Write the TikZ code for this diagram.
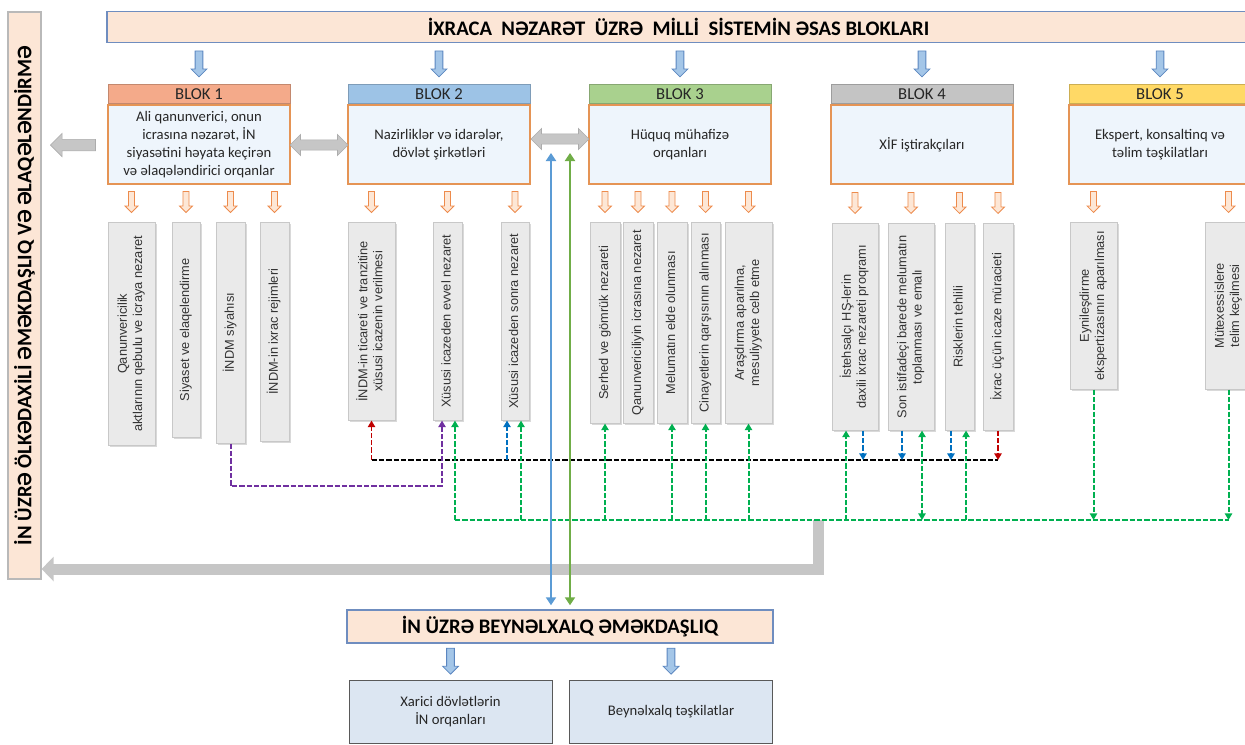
\documentclass[tikz,border=0pt]{standalone}
\usepackage{fontspec}
\setmainfont{Carlito}
\newfontfamily\subfnt{Liberation Sans}
\usetikzlibrary{arrows.meta,shapes.arrows,shadows,positioning}
\definecolor{peach}{HTML}{FCE6D6}
\definecolor{barline}{HTML}{6F8DBF}
\definecolor{bodyfill}{HTML}{EEF5FC}
\definecolor{bodyline}{HTML}{E59455}
\definecolor{hone}{HTML}{F4AA8A}
\definecolor{htwo}{HTML}{9DC3E6}
\definecolor{hthree}{HTML}{A9D18E}
\definecolor{hfour}{HTML}{C4C4C4}
\definecolor{hfive}{HTML}{FFD966}
\definecolor{subfill}{HTML}{EAEAEA}
\definecolor{subline}{HTML}{C8C8C8}
\definecolor{arrblue}{HTML}{A4C6E8}
\definecolor{arrblueline}{HTML}{5B86C0}
\definecolor{arrorange}{HTML}{FDE7D6}
\definecolor{arrorangeline}{HTML}{ED8B4C}
\definecolor{arrgray}{HTML}{C6C6C6}
\definecolor{cred}{HTML}{C00000}
\definecolor{cpurple}{HTML}{7030A0}
\definecolor{cblue}{HTML}{0070C0}
\definecolor{cgreen}{HTML}{00B050}
\definecolor{lblue}{HTML}{5B9BD5}
\definecolor{lgreen}{HTML}{70AD47}
\definecolor{boxfill}{HTML}{DCE6F2}
\definecolor{boxline}{HTML}{595959}
\newcommand\uptext[1]{\rotatebox{90}{\begin{tabular}{@{}c@{}}#1\end{tabular}}}
\begin{document}
\begin{tikzpicture}[x=0.75pt,y=-0.75pt,>={Triangle[length=5pt,width=5.5pt]},
  barnode/.style={draw=barline,line width=1.1pt,fill=peach,inner sep=0pt,font=\bfseries\fontsize{15.5}{17}\selectfont},
  blockbody/.style={draw=bodyline,line width=0.9pt,fill=bodyfill,minimum width=136.5pt,minimum height=59.25pt,inner sep=0pt,align=center,font=\fontsize{11}{13.5}\selectfont,text=black!85,drop shadow={opacity=0.2,shadow xshift=1pt,shadow yshift=-1pt}},
  blockhead/.style={draw=#1!80!black,fill=#1,line width=0.7pt,minimum width=136.5pt,minimum height=14.25pt,inner sep=0pt,font=\fontsize{12.5}{13}\selectfont,text=black!85},
  subbox/.style={draw=subline,fill=subfill,inner sep=0pt,anchor=north,font=\subfnt\fontsize{9.6}{11.3}\selectfont,text=black!80,drop shadow={opacity=0.3,shadow xshift=1.5pt,shadow yshift=-1.5pt}},
  orgbox/.style={draw=boxline,fill=boxfill,minimum width=152pt,minimum height=47.25pt,align=center,font=\fontsize{11}{13.5}\selectfont,text=black!85},
  downblue/.style={single arrow,shape border rotate=270,draw=arrblueline,fill=arrblue,line width=0.6pt,minimum height=19.5pt,inner sep=2.6pt,single arrow head extend=3pt,anchor=tip},
  downorange/.style={single arrow,shape border rotate=270,draw=arrorangeline,fill=arrorange,line width=0.6pt,minimum height=15.75pt,inner sep=2pt,single arrow head extend=2.5pt,anchor=tip},
  graydbl/.style={double arrow,draw=gray!65,fill=arrgray,line width=0.5pt,minimum height=43.5pt,inner sep=3.6pt,double arrow head extend=4pt},
  grayleft/.style={single arrow,shape border rotate=180,draw=gray!65,fill=arrgray,line width=0.5pt,minimum height=33.75pt,inner sep=4pt,single arrow head extend=4.5pt,anchor=tip},
  kd/.style={black,line width=1.2pt,dash pattern=on 4pt off 1.5pt},
  rd/.style={cred,line width=1.3pt,dash pattern=on 4pt off 1.5pt},
  pd/.style={cpurple,line width=1.5pt,dash pattern=on 4pt off 1.5pt},
  bd/.style={cblue,line width=1.3pt,dash pattern=on 4pt off 1.5pt},
  gd/.style={cgreen,line width=1.5pt,dash pattern=on 4pt off 1.5pt},
  longline/.style={line width=2.2pt,<->,>={Triangle[length=6pt,width=7.5pt]}}]
\useasboundingbox (0,0) rectangle (1245,744);
\coordinate (kbus) at (0,460);
\coordinate (pbus) at (0,486);
\coordinate (gbus) at (0,520);

% bars
\node[barnode,minimum width=857pt,minimum height=23.25pt] (title) at (678.5,27) {İXRACA\ \ NƏZARƏT\ \ ÜZRƏ\ \ MİLLİ\ \ SİSTEMİN ƏSAS BLOKLARI};
\node[barnode,draw=gray!55,line width=0.9pt,minimum width=24.75pt,minimum height=425.25pt] (side) at (24.5,295.5) {\rotatebox{90}{İN ÜZRƏ ÖLKƏDAXİLİ ƏMƏKDAŞLIQ VƏ ƏLAQƏLƏNDİRMƏ}};
\node[barnode,minimum width=319.5pt,minimum height=24.75pt] (intl) at (560,626.5) {İN ÜZRƏ BEYNƏLXALQ ƏMƏKDAŞLIQ};

% blocks
\node[blockbody] (b1) at (199,144.5) {Ali qanunverici, onun\\icrasına nəzarət, İN\\siyasətini həyata keçirən\\və əlaqələndirici orqanlar};
\node[blockbody] (b2) at (439,144.5) {Nazirliklər və idarələr,\\dövlət şirkətləri};
\node[blockbody] (b3) at (680,144.5) {Hüquq mühafizə\\orqanları};
\node[blockbody] (b4) at (922,144.5) {XİF iştirakçıları};
\node[blockbody] (b5) at (1160,144.5) {Ekspert, konsaltinq və\\təlim təşkilatları};
\node[blockhead=hone,above=0pt of b1] (h1) {BLOK 1};
\node[blockhead=htwo,above=0pt of b2] (h2) {BLOK 2};
\node[blockhead=hthree,above=0pt of b3] (h3) {BLOK 3};
\node[blockhead=hfour,above=0pt of b4] (h4) {BLOK 4};
\node[blockhead=hfive,above=0pt of b5] (h5) {BLOK 5};
\foreach \n in {h1,h2,h3,h4,h5} \node[downblue] at ([yshift=5.25pt]\n.north) {};
\node[graydbl] (d12) at (319,145) {};
\node[graydbl] (d23) at (560,139) {};
\node[grayleft] (dl) at (50,145) {};

% sub boxes
\node[subbox,minimum width=35.25pt,minimum height=167.25pt] (s1a) at (131.5,222) {\uptext{Qanunvericilik\\aktlarının qebulu ve icraya nezaret}};
\node[subbox,minimum width=21pt,minimum height=161.25pt] (s1b) at (186,222) {\uptext{Siyaset ve elaqelendirme}};
\node[subbox,minimum width=21.75pt,minimum height=165.75pt] (s1c) at (230.5,222) {\uptext{İNDM siyahısı}};
\node[subbox,minimum width=21.75pt,minimum height=164.25pt] (s1d) at (274.5,222) {\uptext{İNDM-in ixrac rejimleri}};
\node[subbox,minimum width=35.25pt,minimum height=148.5pt] (s2a) at (371.5,222) {\uptext{İNDM-in ticareti ve tranzitine\\xüsusi icazenin verilmesi}};
\node[subbox,minimum width=21.75pt,minimum height=148.5pt] (s2b) at (447.5,222) {\uptext{Xüsusi icazeden evvel nezaret}};
\node[subbox,minimum width=21pt,minimum height=148.5pt] (s2c) at (515,222) {\uptext{Xüsusi icazeden sonra nezaret}};
\node[subbox,minimum width=22.5pt,minimum height=150.75pt] (s3a) at (605,222) {\uptext{Serhed ve gömrük nezareti}};
\node[subbox,minimum width=22.5pt,minimum height=150.75pt] (s3b) at (638,222) {\uptext{Qanunvericiliyin icrasına nezaret}};
\node[subbox,minimum width=22.5pt,minimum height=150.75pt] (s3c) at (672,222) {\uptext{Melumatın elde olunması}};
\node[subbox,minimum width=21.75pt,minimum height=150.75pt] (s3d) at (705.5,222) {\uptext{Cinayetlerin qarşısının alınması}};
\node[subbox,minimum width=35.25pt,minimum height=150.75pt] (s3e) at (748.5,222) {\uptext{Araşdırma aparılma,\\mesuliyyete celb etme}};
\node[subbox,minimum width=34.5pt,minimum height=155.25pt] (s4a) at (855,223) {\uptext{İstehsalçı HŞ-lerin\\daxili ixrac nezareti proqramı}};
\node[subbox,minimum width=34.5pt,minimum height=155.25pt] (s4b) at (911,223) {\uptext{Son istifadeçi barede melumatın\\toplanması ve emalı}};
\node[subbox,minimum width=21.75pt,minimum height=155.25pt] (s4c) at (959.5,223) {\uptext{Risklerin tehlili}};
\node[subbox,minimum width=22.5pt,minimum height=155.25pt] (s4d) at (998,223) {\uptext{İxrac üçün icaze müracieti}};
\node[subbox,minimum width=35.25pt,minimum height=125.25pt] (s5a) at (1093.5,222) {\uptext{Eynileşdirme\\ekspertizasının aparılması}};
\node[subbox,minimum width=35.25pt,minimum height=125.25pt] (s5b) at (1228.5,222) {\uptext{Mütexessislere\\telim keçilmesi}};
\foreach \n in {s1a,s1b,s1c,s1d,s2a,s2b,s2c,s3a,s3b,s3c,s3d,s3e,s4a,s4b,s4c,s4d,s5a,s5b}
  \node[downorange] at ([yshift=6.75pt]\n.north) {};

% links
\draw[arrgray,line width=8.25pt,-{Triangle[length=9pt,width=18pt]}] (818,520) |- (side.east |- 0,569);
\draw[kd] (s2a.south |- kbus) -- (s4d.south |- kbus);
\draw[gd] ([xshift=5.6pt]s2b.south |- gbus) -- (s5b.south |- gbus);
\draw[rd,->] (s2a.south |- kbus) -- (s2a.south);
\draw[rd,->] (s4d.south) -- (s4d.south |- kbus);
\draw[pd,->] (s1c.south) |- ([xshift=-4.1pt]s2b.south |- pbus) -- ([xshift=-4.1pt]s2b.south);
\draw[bd,->] ([xshift=-6pt]s2c.south |- kbus) -- ([xshift=-6pt]s2c.south);
\foreach \n/\d in {s4a/6,s4b/-6.75,s4c/-6.4}
  \draw[bd,->] ([xshift=\d pt]\n.south) -- ([xshift=\d pt]\n.south |- kbus);
\foreach \n/\d in {s2b/5.6,s2c/4.5,s3a/0,s3c/0,s3d/0,s3e/0,s4a/-6.75,s4c/4.9}
  \draw[gd,->] ([xshift=\d pt]\n.south |- gbus) -- ([xshift=\d pt]\n.south);
\draw[gd,<->] ([xshift=8.25pt]s4b.south) -- ([xshift=8.25pt]s4b.south |- gbus);
\foreach \n in {s5a,s5b} \draw[gd,->] (\n.south) -- (\n.south |- gbus);
\coordinate (lb) at (551,153);
\coordinate (lg) at (570,153);
\draw[longline,lblue,shorten >=3pt] (lb) -- (lb |- intl.north);
\draw[longline,lgreen,shorten >=3pt] (lg) -- (lg |- intl.north);

% bottom
\node[orgbox] (forg) at (450.5,711.5) {Xarici dövlətlərin\\İN orqanları};
\node[orgbox] (intorg) at (671,711.5) {Beynəlxalq təşkilatlar};
\foreach \n in {forg,intorg} \node[downblue] at ([yshift=3.75pt]\n.north) {};
\end{tikzpicture}
\end{document}
